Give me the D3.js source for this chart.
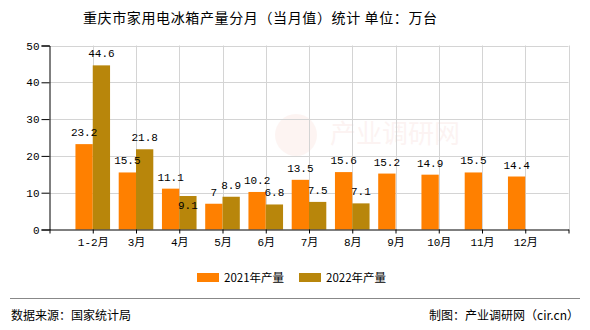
<!DOCTYPE html>
<html>
<head>
<meta charset="utf-8">
<script src="https://cdn.jsdelivr.net/npm/d3@7/dist/d3.min.js"></script>
<style>
  html, body { margin: 0; padding: 0; background: #fff; }
  svg { display: block; }
</style>
</head>
<body>
<svg id="chart" width="590" height="330"></svg>
<script>
// Monthly household refrigerator output, Chongqing (10k units)
const categories = ["1-2月", "3月", "4月", "5月", "6月", "7月", "8月", "9月", "10月", "11月", "12月"];
const values2021 = [23.2, 15.5, 11.1, 7, 10.2, 13.5, 15.6, 15.2, 14.9, 15.5, 14.4];
const values2022 = [44.6, 21.8, 9.1, 8.9, 6.8, 7.5, 7.1, null, null, null, null];
const seriesNames = ["2021年产量", "2022年产量"];
const yTicks = [0, 10, 20, 30, 40, 50];

const colors = ["#FF8000", "#B8860B"];
const monoFont = "'Liberation Mono', 'DejaVu Sans Mono', 'Noto Sans CJK SC', monospace";
const cjkFont = "'Noto Sans CJK SC', 'Noto Sans', sans-serif";

const svg = d3.select("#chart");
const plotLeft = 49.5, plotRight = 568.5, plotTop = 45.5, plotBottom = 229.5;

// one empty slot before the first category, so categories sit on slots 1..11
const x = d3.scaleLinear().domain([0, categories.length + 1]).range([plotLeft, plotRight]);
const y = d3.scaleLinear().domain([0, 50]).range([plotBottom, plotTop]);
const barW = 17.3;

// watermark
const wm = svg.append("g").attr("opacity", 0.06);
wm.append("circle").attr("cx", 296).attr("cy", 135).attr("r", 21).attr("fill", "#e05a3a");
wm.append("text").attr("x", 330).attr("y", 143).attr("fill", "#d04030")
  .attr("font-family", cjkFont).attr("font-size", 26).text("产业调研网");

// gridlines
const grid = svg.append("g").attr("stroke", "#d4d4d4").attr("stroke-width", 1);
yTicks.filter(t => t > 0).forEach(t => {
  grid.append("line").attr("x1", plotLeft).attr("x2", plotRight)
    .attr("y1", Math.round(y(t)) + 0.5).attr("y2", Math.round(y(t)) + 0.5);
});
d3.range(1, categories.length + 2).forEach(i => {
  grid.append("line").attr("x1", Math.round(x(i)) + 0.5).attr("x2", Math.round(x(i)) + 0.5)
    .attr("y1", plotTop).attr("y2", plotBottom);
});

// bars
const bars = svg.append("g");
categories.forEach((c, i) => {
  const cx = x(i + 1);
  if (values2021[i] != null) {
    bars.append("rect").attr("x", cx - barW).attr("width", barW)
      .attr("y", y(values2021[i])).attr("height", y(0) - y(values2021[i]))
      .attr("fill", colors[0]);
  }
  if (values2022[i] != null) {
    bars.append("rect").attr("x", cx).attr("width", barW)
      .attr("y", y(values2022[i])).attr("height", y(0) - y(values2022[i]))
      .attr("fill", colors[1]);
  }
});

// value labels, with a 2022 label pushed below its bar top when it would collide
const labelSize = 11, charW = 6.6, textH = 11;
const labels = svg.append("g").attr("font-family", monoFont).attr("font-size", labelSize)
  .attr("fill", "#000").attr("text-anchor", "middle");
categories.forEach((c, i) => {
  const cx = x(i + 1);
  let box1 = null;
  if (values2021[i] != null) {
    const v = values2021[i];
    const lx = cx - barW / 2, ly = y(v) - 12;
    labels.append("text").attr("x", lx).attr("y", ly + 4).text(v);
    const w = String(v).length * charW;
    box1 = { x0: lx - w / 2, x1: lx + w / 2, cy: ly };
  }
  if (values2022[i] != null) {
    const v = values2022[i];
    const lx = cx + barW / 2;
    let ly = y(v) - 12;
    const w = String(v).length * charW;
    if (box1 && lx - w / 2 < box1.x1 && Math.abs(ly - box1.cy) < textH) {
      ly = y(v) + 9;
    }
    labels.append("text").attr("x", lx).attr("y", ly + 4).text(v);
  }
});

// y axis
const yAxis = svg.append("g").attr("transform", `translate(${plotLeft},0)`)
  .call(d3.axisLeft(y).tickValues(yTicks).tickSize(8).tickPadding(2).tickFormat(d3.format("d")));
yAxis.selectAll("path, line").attr("stroke", "#000");
yAxis.selectAll("text").attr("font-family", monoFont).attr("font-size", 11).attr("fill", "#000");

// x axis
const xAxis = svg.append("g").attr("transform", `translate(0,${plotBottom})`)
  .call(d3.axisBottom(x).tickValues(d3.range(0, categories.length + 2)).tickSize(4).tickSizeOuter(0)
    .tickPadding(5).tickFormat(d => (d >= 1 && d <= categories.length) ? categories[d - 1] : ""));
xAxis.selectAll("path, line").attr("stroke", "#000");
xAxis.selectAll("text").attr("font-family", monoFont).attr("font-size", 11).attr("fill", "#000");

// title
svg.append("text").attr("x", 83).attr("y", 23).attr("text-anchor", "start")
  .attr("font-family", cjkFont).attr("font-size", 14).attr("font-weight", 400).attr("fill", "#000")
  .attr("textLength", 354).attr("lengthAdjust", "spacing")
  .text("重庆市家用电冰箱产量分月（当月值）统计 单位：万台");

// legend
const legendX = [197, 299];
seriesNames.forEach((name, k) => {
  svg.append("rect").attr("x", legendX[k]).attr("y", 273).attr("width", 22).attr("height", 9)
    .attr("fill", colors[k]);
  svg.append("text").attr("x", legendX[k] + 27).attr("y", 282)
    .attr("font-family", cjkFont).attr("font-size", 11.5).attr("fill", "#000").text(name);
});

// footer
svg.append("line").attr("x1", 10).attr("x2", 580).attr("y1", 298.5).attr("y2", 298.5)
  .attr("stroke", "#888").attr("stroke-width", 1);
svg.append("text").attr("x", 11).attr("y", 320)
  .attr("font-family", cjkFont).attr("font-size", 12).attr("fill", "#000").text("数据来源：国家统计局");
svg.append("text").attr("x", 579).attr("y", 320).attr("text-anchor", "end")
  .attr("font-family", cjkFont).attr("font-size", 12).attr("fill", "#000").text("制图：产业调研网（cir.cn）");
</script>
</body>
</html>
